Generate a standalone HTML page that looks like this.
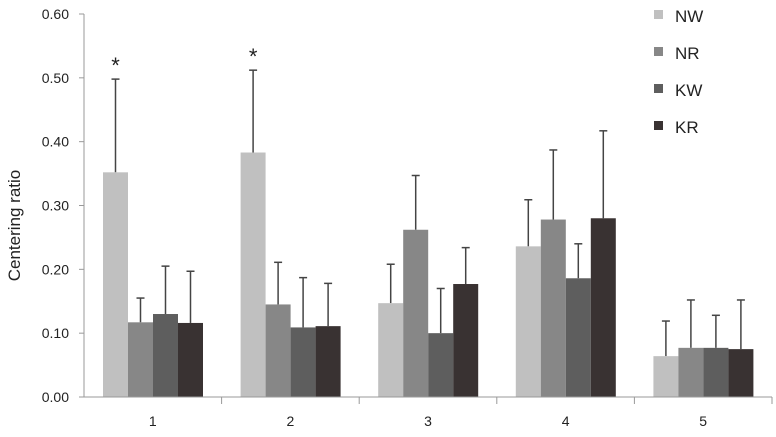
<!DOCTYPE html>
<html><head><meta charset="utf-8"><style>
body{margin:0;background:#fff}
text{font-family:"Liberation Sans",sans-serif;fill:#222}
</style></head><body>
<svg id="chart" width="776" height="432" xmlns="http://www.w3.org/2000/svg"></svg>
<script>
const categories=["1","2","3","4","5"];
const seriesNames=["NW","NR","KW","KR"];
const nwValues=[0.352,0.383,0.147,0.236,0.064];
const nrValues=[0.117,0.145,0.262,0.278,0.077];
const kwValues=[0.130,0.109,0.100,0.186,0.077];
const krValues=[0.116,0.111,0.177,0.280,0.075];
const nwErr=[0.498,0.512,0.208,0.309,0.119];
const nrErr=[0.155,0.211,0.347,0.387,0.152];
const kwErr=[0.205,0.187,0.170,0.240,0.128];
const krErr=[0.197,0.178,0.234,0.417,0.152];
const yTicks=[0,0.1,0.2,0.3,0.4,0.5,0.6];
const yTickLabels=["0.00","0.10","0.20","0.30","0.40","0.50","0.60"];
const starCats=[0,1];

const svg=document.getElementById('chart');
const NS='http://www.w3.org/2000/svg';
const colors=["#c0c0c0","#878787","#5e5e5e","#393232"];
const X0=84,X1=772,Y0=397,Ytop=14,ymax=0.6;
const step=(X1-X0)/categories.length;
const bw=25;
function y(v){return Y0-(v/ymax)*(Y0-Ytop);}
function xBar(c,s){return X0+c*step+19+s*bw;}
function mk(tag,attrs){const e=document.createElementNS(NS,tag);for(const k in attrs)e.setAttribute(k,attrs[k]);svg.appendChild(e);return e;}

let e=mk('line',{x1:X0,y1:Ytop,x2:X0,y2:Y0,stroke:'#999'});


yTicks.forEach((t,i)=>{
  let l=mk('line',{x1:X0-5,y1:y(t),x2:X0,y2:y(t),stroke:'#999'});
  
  
  let tx=mk('text',{x:X0-15,y:y(t)+5,'text-anchor':'end','font-size':'14'});
  tx.textContent=yTickLabels[i];
  
  
});
let yt=mk('text',{x:0,y:0,'text-anchor':'middle','font-size':'17',transform:'translate(20,'+((Y0+Ytop)/2+20)+') rotate(-90)'});
yt.textContent='Centering ratio';



const vals=[nwValues,nrValues,kwValues,krValues];
const errs=[nwErr,nrErr,kwErr,krErr];
categories.forEach((c,ci)=>{
  vals.forEach((arr,si)=>{
    const x=xBar(ci,si);
    let el=mk('line',{x1:x+bw/2,y1:y(errs[si][ci]),x2:x+bw/2,y2:y(arr[ci]),stroke:'#444','stroke-width':1.5});
    
    
    let cap=mk('line',{x1:x+bw/2-4,y1:y(errs[si][ci]),x2:x+bw/2+4,y2:y(errs[si][ci]),stroke:'#444','stroke-width':1.5});
    
    
    let r=mk('rect',{x:x,y:y(arr[ci]),width:bw,height:Y0-y(arr[ci]),fill:colors[si]});
    
    
  });
  let t=mk('text',{x:X0+ci*step+step/2,y:426,'text-anchor':'middle','font-size':'14'});
  t.textContent=c;
  
  
  let tk=mk('line',{x1:X0+(ci+1)*step,y1:Y0,x2:X0+(ci+1)*step,y2:Y0+7,stroke:'#999'});
  
  
});
starCats.forEach(ci=>{
  let s=mk('text',{x:xBar(ci,0)+bw/2,y:y(errs[0][ci])-6,'text-anchor':'middle','font-size':'22'});
  s.textContent='*';
  
  
});
let xa=mk('line',{x1:X0,y1:Y0,x2:X1,y2:Y0,stroke:'#999'});


seriesNames.forEach((n,i)=>{
  const yy=15+i*37;
  let r=mk('rect',{x:654,y:yy-5,width:9,height:9,fill:colors[i]});
  
  
  let t=mk('text',{x:675,y:yy+7,'font-size':'17'});
  t.textContent=n;
  
  
});
</script>
</body></html>
